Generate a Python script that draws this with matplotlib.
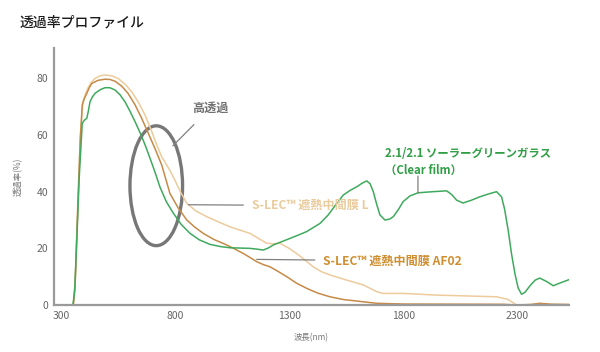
import matplotlib
matplotlib.use("Agg")
import matplotlib.pyplot as plt
from matplotlib.patches import Ellipse

plt.rcParams["font.family"] = ["Noto Sans CJK JP", "DejaVu Sans"]

# Transmittance curves (wavelength nm, transmittance %)
green_nm = [267, 350, 358, 368, 377, 391, 400, 411, 418, 425, 436, 447, 470, 491,
            512, 535, 557, 579, 600, 623, 645, 667, 690, 710, 732, 760, 791, 825,
            864, 905, 952, 1000, 1040, 1085, 1127, 1160, 1186, 1210, 1230, 1265,
            1303, 1340, 1376, 1435, 1471, 1505, 1537, 1570, 1596, 1620, 1640,
            1655, 1669, 1684, 1698, 1720, 1740, 1757, 1780, 1800, 1830, 1865,
            1930, 1991, 2013, 2035, 2063, 2100, 2137, 2175, 2210, 2232, 2245,
            2261, 2276, 2291, 2305, 2320, 2335, 2357, 2380, 2400, 2430, 2459,
            2490, 2530]
green_t = [0, 0, 5, 25, 44, 64.1, 65.2, 65.9, 68.5, 71.7, 73.5, 74.7, 76.0, 76.7,
           76.7, 75.9, 74.2, 71.7, 68.5, 64.7, 60.8, 56.5, 51.5, 47.0, 41.7, 36.5,
           32.4, 28.5, 25.3, 23.0, 21.4, 20.6, 20.2, 20.1, 20.0, 19.7, 19.4, 20.2,
           21.2, 22.3, 23.5, 24.7, 25.9, 28.8, 31.8, 35.5, 38.8, 40.6, 41.7, 43.0,
           43.8, 42.8, 40.0, 35.5, 31.8, 30.0, 30.3, 31.2, 33.8, 36.5, 38.5, 39.6,
           40.0, 40.3, 39.0, 37.0, 36.0, 37.0, 38.2, 39.2, 40.0, 38.2, 34.0,
           26.5, 18.0, 11.0, 6.0, 3.8, 4.5, 6.8, 8.8, 9.5, 8.3, 6.8, 7.8, 9.0]

af02_nm = [267, 352, 360, 372, 382, 391, 400, 411, 422, 433, 460, 491, 513, 535,
           565, 592, 622, 652, 680, 710, 740, 776, 812, 850, 885, 922, 970, 1025,
           1060, 1098, 1127, 1157, 1185, 1215, 1250, 1289, 1330, 1376, 1425,
           1479, 1540, 1596, 1684, 1799, 2238, 2298, 2360, 2400, 2450, 2530]
af02_t = [0, 0, 8, 35, 58, 70.6, 72.8, 74.7, 76.7, 78.2, 79.3, 79.7, 79.6, 79.0,
          77.2, 74.7, 70.8, 65.9, 60.8, 55.3, 49.4, 39.4, 34.3, 30.0, 27.5, 25.3,
          23.1, 21.2, 19.8, 18.2, 16.8, 15.3, 14.3, 13.5, 11.9, 10.0, 7.8, 5.9,
          4.2, 2.9, 1.9, 1.4, 0.6, 0.35, 0.25, 0, 0.2, 0.6, 0.3, 0.2]

l_nm = [267, 352, 360, 372, 383, 394, 405, 416, 430, 447, 470, 491, 520, 548,
        578, 608, 638, 667, 695, 718, 740, 776, 798, 825, 850, 890, 937, 990,
        1040, 1085, 1127, 1165, 1201, 1230, 1259, 1295, 1332, 1370, 1405, 1440,
        1479, 1552, 1625, 1684, 1711, 1799, 1947, 2210, 2260, 2298, 2530]
l_t = [0, 0, 8, 38, 60, 71.7, 74.5, 76.6, 78.5, 80.0, 80.9, 81.2, 80.9, 80.0,
       78.0, 75.3, 71.5, 67.0, 61.5, 56.5, 52.3, 47.5, 44.0, 39.5, 35.9, 33.2,
       31.2, 29.3, 27.6, 26.4, 25.3, 23.5, 21.8, 21.6, 21.8, 20.2, 18.2, 15.8,
       13.5, 11.8, 10.6, 8.8, 7.1, 4.7, 4.1, 4.1, 3.5, 2.9, 2.0, 0, 0]

x_ticks = [300, 800, 1300, 1800, 2300]
y_ticks = [0, 20, 40, 60, 80]

c_green = "#3FAA5E"
c_green_txt = "#2F9E45"
c_l = "#EDCB9C"
c_l_txt = "#EACB9C"
c_af = "#C68A48"
c_af_txt = "#CF8E2F"
c_gray = "#808080"

fig = plt.figure(figsize=(6, 3.52), dpi=100)
ax = fig.add_axes([0.09, 0.1335, 0.859, 0.73])

ax.plot(l_nm, l_t, color=c_l, lw=1.1)
ax.plot(af02_nm, af02_t, color=c_af, lw=1.1)
ax.plot(green_nm, green_t, color=c_green, lw=1.1)

ax.set_xlim(267, 2530)
ax.set_ylim(0, 90.7)
ax.set_xticks(x_ticks)
ax.set_yticks(y_ticks)
ax.tick_params(length=0, labelsize=7.5, colors="#666666", pad=4)
for s in ["top", "right"]:
    ax.spines[s].set_visible(False)
for s in ["left", "bottom"]:
    ax.spines[s].set_color("#9a9a9a")
    ax.spines[s].set_linewidth(1.6)

ax.set_xlabel("波長(nm)", fontsize=6, color="#777777", labelpad=9)
ax.set_ylabel("透過率(%)", fontsize=6, color="#777777", labelpad=10)

# ellipse marking the high-transmission region
ax.add_patch(Ellipse((716, 42.1), 231, 42.3, fill=False, ec="#777777", lw=2.4))

# annotations
ax.annotate("高透過", xy=(789, 56.2), xytext=(952, 69.4), fontsize=8.7,
            color="#707070", fontweight="bold", ha="center", va="center",
            arrowprops=dict(arrowstyle="-", color=c_gray, lw=0.9,
                            shrinkA=7, shrinkB=0))
ax.annotate("S-LEC™ 遮熱中間膜 L", xy=(857, 35.4), xytext=(1135, 35.1),
            fontsize=8.7, color=c_l_txt, fontweight="bold", ha="left", va="center",
            arrowprops=dict(arrowstyle="-", color=c_gray, lw=0.9,
                            shrinkA=4, shrinkB=0))
ax.annotate("S-LEC™ 遮熱中間膜 AF02", xy=(1157, 16.1), xytext=(1449, 15.6),
            fontsize=8.7, color=c_af_txt, fontweight="bold", ha="left", va="center",
            arrowprops=dict(arrowstyle="-", color=c_gray, lw=0.9,
                            shrinkA=4, shrinkB=0))
ax.text(1722, 50.5, "2.1/2.1 ソーラーグリーンガラス\n（Clear film）",
        fontsize=8.2, color=c_green_txt, fontweight="bold", ha="left",
        va="center", linespacing=1.3)
ax.annotate("", xy=(1865, 39.6), xytext=(1865, 45.5),
            arrowprops=dict(arrowstyle="-", color=c_gray, lw=0.9,
                            shrinkA=0, shrinkB=0))

fig.text(20 / 600, 1 - 22 / 352, "透過率プロファイル", fontsize=10,
         fontweight="medium", color="#1a1a1a", ha="left", va="center")

fig.savefig("out.png", dpi=100)
